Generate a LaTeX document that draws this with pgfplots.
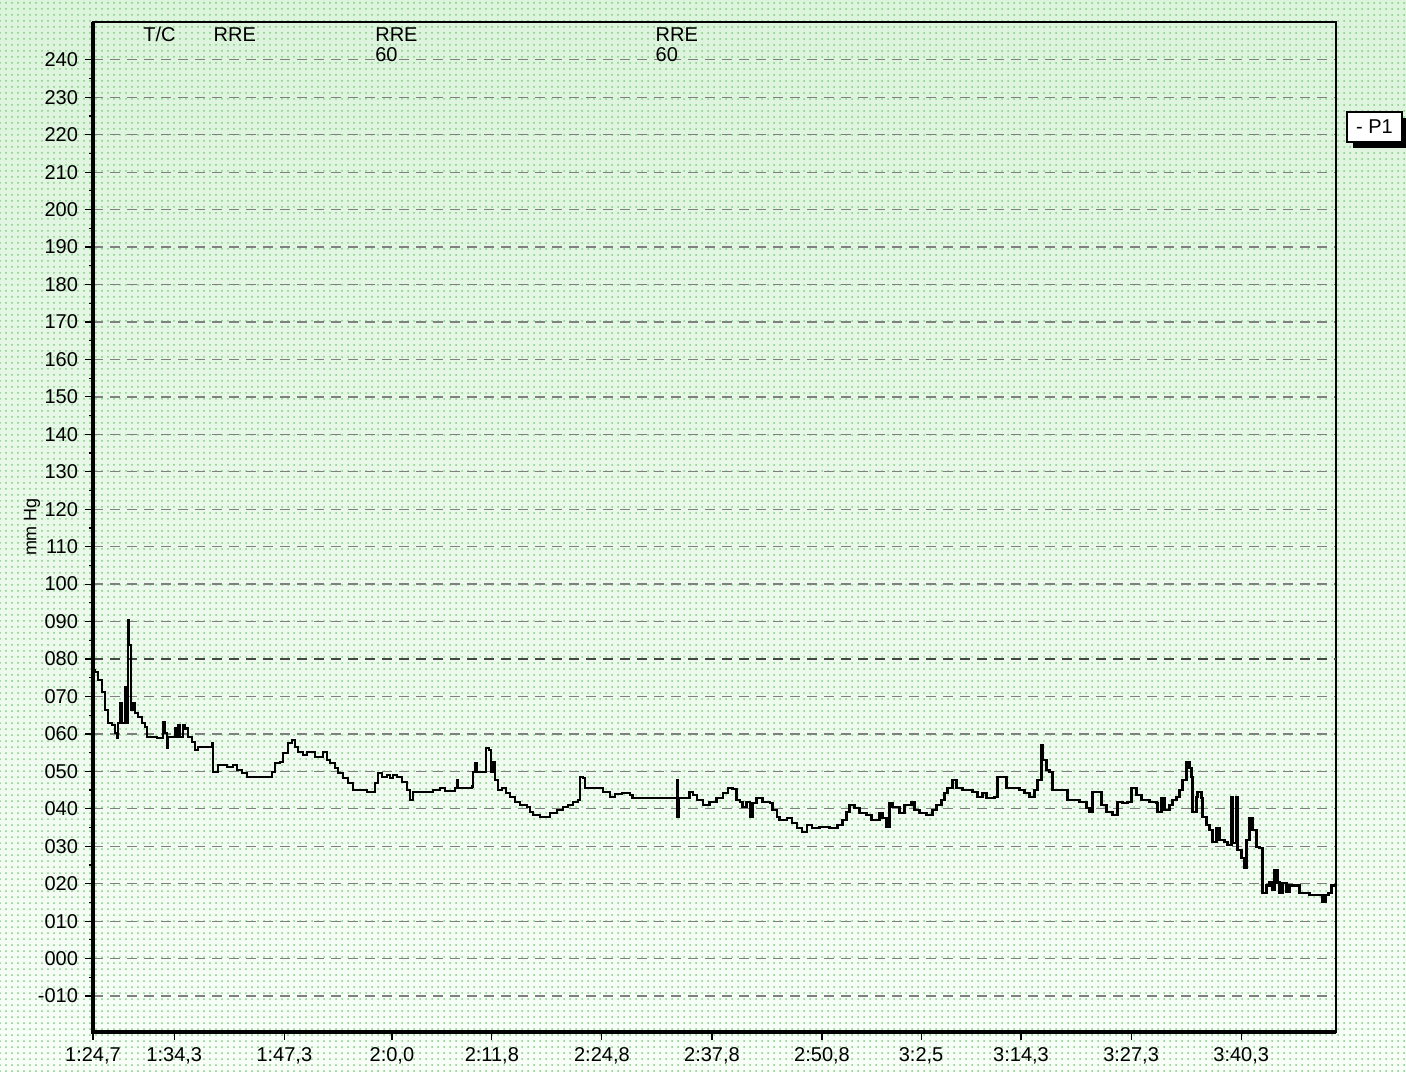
\documentclass[border=0pt]{standalone}
\usepackage{fontspec}
\setmainfont{Liberation Sans}
\usepackage{pgfplots}
\pgfplotsset{compat=1.18}
\usetikzlibrary{patterns}
\definecolor{bgtop}{RGB}{220,243,220}
\definecolor{bgmid}{RGB}{234,248,234}
\definecolor{bgbot}{RGB}{248,253,248}
\definecolor{dotgreen}{RGB}{125,205,125}
\begin{document}
\begin{tikzpicture}
\useasboundingbox (0pt,0pt) rectangle (703pt,535.5pt);
\shade[top color=bgtop, middle color=bgmid, bottom color=bgbot] (0pt,0pt) rectangle (703pt,535.5pt);
\fill[pattern=dots, pattern color=dotgreen] (0pt,0pt) rectangle (703pt,535.5pt);
\begin{axis}[
  at={(46.5pt,19.5pt)}, anchor=south west,
  width=621.5pt, height=505pt, scale only axis,
  xmin=0, xmax=146.8, ymin=-19.6, ymax=250.1,
  xtick={0,9.6,22.6,35.3,47.1,60.1,73.1,86.1,97.8,109.6,122.6,135.6},
  xticklabels={{1:24,7},{1:34,3},{1:47,3},{2:0,0},{2:11,8},{2:24,8},{2:37,8},{2:50,8},{3:2,5},{3:14,3},{3:27,3},{3:40,3}},
  ytick={-10,0,10,20,30,40,50,60,70,80,90,100,110,120,130,140,150,160,170,180,190,200,210,220,230,240},
  yticklabels={-010,000,010,020,030,040,050,060,070,080,090,100,110,120,130,140,150,160,170,180,190,200,210,220,230,240},
  tick label style={font=\fontsize{10}{12}\selectfont},
  /pgf/number format/assume math mode=true,
  tick align=outside, tick pos=left,
  major tick length=4pt, minor tick length=2pt,
  minor y tick num=1, minor x tick num=2,
  ymajorgrids,
  major grid style={gray, line width=0.65pt, dash pattern=on 5pt off 3.5pt},
  axis line style={line width=1pt},
  tick style={black, line width=0.6pt},
  ylabel={mm Hg},
  ylabel style={at={(axis description cs:-0.049,0.5)}, anchor=center, font=\fontsize{9}{11}\selectfont},
  clip=false,
]
\addplot[gray!55!black, line width=1.4pt, dash pattern=on 5pt off 3.5pt, forget plot] coordinates {(0,80) (146.8,80)};
\addplot[const plot, black, line width=1.3pt] coordinates {
(0,77) (0.24,76.5) (0.59,74.4) (1.06,71.2) (1.42,66.4) (1.77,62.9) (2.24,62.4) (2.60,60.2) (2.83,58.9) (2.95,62.9)
(3.19,68.3) (3.42,62.9) (3.78,72.5) (4.01,62.9) (4.13,90.4) (4.25,83.7) (4.49,66.4) (4.72,68.3) (4.96,65.6) (5.31,64.5)
(5.79,62.9) (6.14,61.8) (6.38,59.2) (7.08,59.2) (7.56,58.9) (8.15,58.9) (8.26,63.2) (8.50,60.2) (8.74,56.2) (8.85,59.2)
(9.33,59.2) (9.68,61.5) (9.92,59.2) (10.04,62.4) (10.27,59.2) (10.63,62.4) (10.86,61.5) (11.22,59.2) (11.69,57.8) (12.04,55.7)
(12.40,56.5) (13.22,56.5) (14.05,57.6) (14.17,49.8) (14.76,51.7) (15.35,51.7) (15.82,51.2) (16.53,51.7) (17.00,50.4) (17.59,49.6)
(18.18,48.5) (19.36,48.5) (20.07,48.5) (21.13,49.8) (21.49,52.2) (22.08,52.5) (22.43,54.9) (23.02,57.6) (23.49,58.4) (23.85,56.5)
(24.20,55.2) (24.79,54.4) (25.27,55.2) (25.86,55.2) (26.21,53.8) (27.15,55.2) (27.63,53.0) (27.98,52.2) (28.57,50.9) (28.93,49.6)
(29.52,48.2) (30.11,46.9) (30.70,45.0) (31.88,45.0) (32.35,44.5) (32.94,44.5) (33.29,46.9) (33.65,49.6) (34.12,48.5) (34.71,49.0)
(35.06,48.2) (35.42,49.0) (35.89,48.5) (36.48,47.2) (37.07,45.0) (37.43,42.3) (37.78,44.5) (40.02,44.5) (40.14,45.0) (40.97,45.6)
(41.56,44.8) (42.74,45.6) (42.98,47.7) (43.09,45.6) (44.75,45.9) (44.86,49.8) (45.10,52.2) (45.34,49.8) (46.28,49.8) (46.40,56.2)
(46.75,55.7) (46.99,49.8) (47.23,52.5) (47.46,47.7) (47.82,45.0) (48.29,45.6) (48.76,44.2) (49.23,43.2) (49.82,41.8) (50.41,41.0)
(51.24,40.5) (51.59,39.1) (51.95,38.3) (52.77,37.8) (53.60,37.8) (53.96,38.9) (54.78,39.7) (55.49,40.5) (56.08,41.0) (56.67,41.8)
(57.26,42.3) (57.50,48.5) (57.85,48.2) (58.09,45.6) (59.86,45.6) (60.21,44.5) (60.80,44.5) (61.04,43.2) (61.63,44.0) (62.46,44.2)
(63.40,43.7) (63.75,42.9) (68.95,47.7) (69.05,37.8) (69.15,42.9) (70.13,42.9) (70.48,44.5) (70.84,43.7) (71.31,42.3) (72.02,41.0)
(72.84,41.8) (73.67,42.9) (74.38,44.2) (74.97,45.6) (75.56,45.3) (76.03,42.3) (76.39,41.8) (76.74,40.5) (77.21,41.8) (77.57,37.8)
(77.92,41.5) (78.39,42.9) (79.10,41.8) (79.93,41.5) (80.28,39.7) (80.76,37.8) (81.11,37.0) (81.94,37.5) (82.53,36.2) (83.12,34.9)
(83.71,33.8) (84.30,35.7) (84.89,34.9) (85.83,35.1) (87.01,34.9) (87.96,35.7) (88.55,37.0) (89.02,39.1) (89.37,41.0) (89.96,40.2)
(90.55,38.9) (91.38,38.3) (91.97,37.0) (92.56,37.0) (92.92,38.9) (93.27,37.5) (93.74,35.1) (94.10,41.5) (94.45,40.5) (95.28,38.9)
(95.87,41.0) (96.69,41.8) (97.05,39.7) (97.64,38.9) (98.47,38.3) (99.17,39.7) (99.65,41.0) (100.24,42.3) (100.59,44.2) (100.94,45.6)
(101.53,47.7) (102.01,45.6) (102.72,45.0) (103.90,44.5) (104.49,43.2) (105.08,44.2) (105.55,42.9) (106.49,43.2) (106.85,48.5) (107.91,45.6)
(109.45,45.0) (110.04,44.2) (110.63,43.2) (111.22,45.0) (111.57,47.7) (112.04,57.0) (112.16,53.0) (112.63,50.4) (112.99,49.8) (113.34,45.0)
(114.52,45.0) (115.11,42.3) (116.53,41.8) (117.36,40.2) (117.71,39.1) (118.06,44.5) (118.65,44.5) (119.13,41.0) (119.72,39.1) (120.43,38.3)
(121.02,41.8) (121.61,41.5) (122.20,41.8) (122.67,45.6) (123.26,43.7) (123.85,42.3) (124.79,41.8) (125.62,41.5) (125.74,39.1) (126.21,42.9)
(126.56,39.7) (127.15,41.0) (127.51,42.3) (127.98,43.2) (128.34,45.0) (128.69,47.7) (129.16,52.5) (129.52,50.9) (129.75,48.5) (129.87,39.1)
(130.34,43.2) (130.46,44.5) (130.93,42.9) (131.05,37.8) (131.52,35.7) (131.88,34.3) (132.23,31.1) (132.70,34.9) (133.06,31.7) (133.65,31.1)
(134.00,30.3) (134.47,43.2) (134.59,30.9) (135.06,43.2) (135.18,29.0) (135.66,26.9) (136.01,24.2) (136.25,31.7) (136.60,37.5) (136.95,34.3)
(137.43,29.8) (137.78,29.5) (138.13,17.5) (138.61,19.6) (138.96,20.4) (139.32,18.3) (139.55,23.7) (139.91,20.4) (140.14,17.5) (140.50,20.2)
(140.97,17.8) (141.32,19.6) (142.27,19.6) (142.50,17.5) (143.33,17.5) (143.68,17.0) (144.86,17.0) (145.22,15.1) (145.57,17.0) (145.93,17.5)
(146.28,19.6) (146.8,19.6)
};
\node[anchor=west, inner sep=0pt, font=\fontsize{10}{12}\selectfont] at (axis cs:5.9,246.7) {T/C};
\node[anchor=west, inner sep=0pt, font=\fontsize{10}{12}\selectfont] at (axis cs:14.2,246.7) {RRE};
\node[anchor=west, inner sep=0pt, font=\fontsize{10}{12}\selectfont] at (axis cs:33.3,246.7) {RRE};
\node[anchor=west, inner sep=0pt, font=\fontsize{10}{12}\selectfont] at (axis cs:33.3,241.4) {60};
\node[anchor=west, inner sep=0pt, font=\fontsize{10}{12}\selectfont] at (axis cs:66.4,246.7) {RRE};
\node[anchor=west, inner sep=0pt, font=\fontsize{10}{12}\selectfont] at (axis cs:66.4,241.4) {60};
\draw[line width=1.6pt] (rel axis cs:0,1) -- (rel axis cs:0,0) -- (rel axis cs:1,0);
\end{axis}
\fill[black] (676.5pt,461.5pt) rectangle (703pt,476.5pt);
\draw[fill=white, line width=0.8pt] (673.5pt,464.5pt) rectangle (701pt,479.5pt);
\node[font=\fontsize{10}{12}\selectfont, inner sep=0pt] at (687.25pt,472pt) {- P1};
\end{tikzpicture}
\end{document}
